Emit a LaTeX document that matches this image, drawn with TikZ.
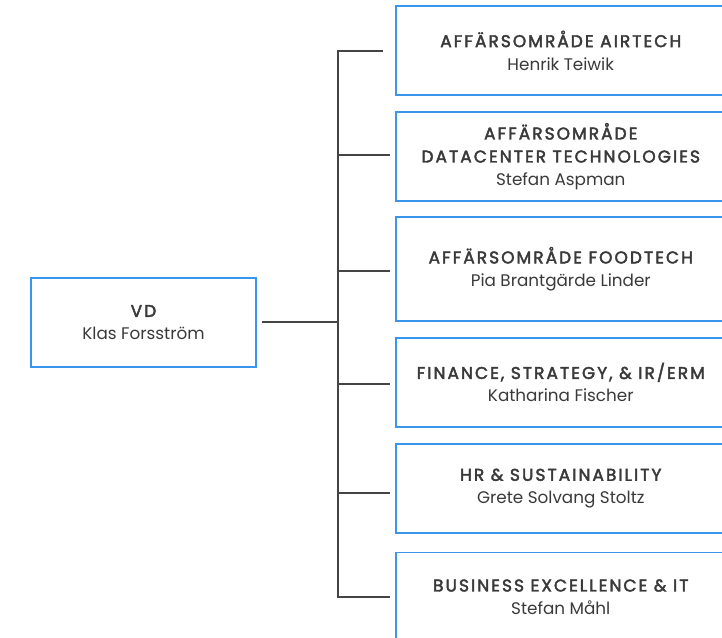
\documentclass[tikz,border=0pt]{standalone}
\usepackage{fontspec}
\setmainfont{Poppins}
\newfontfamily\ttlfont[LetterSpace=12,FakeBold=2.5]{Poppins}
\definecolor{boxblue}{HTML}{3A95EC}
\definecolor{txtgray}{HTML}{3A3A3A}
\definecolor{linegray}{HTML}{444444}
\begin{document}
\begin{tikzpicture}[x=1pt,y=-1pt,
  orgbox/.style={draw=boxblue,line width=1.5pt,fill=white,minimum width=330pt,anchor=west,align=center,text=txtgray,font=\fontsize{16.8}{23}\selectfont,inner sep=0pt},
  vdbox/.style={draw=boxblue,line width=1.5pt,fill=white,minimum width=225pt,minimum height=89pt,align=center,text=txtgray,font=\fontsize{16.8}{23}\selectfont,inner sep=0pt},
  conn/.style={draw=linegray,line width=1.2pt}]
\useasboundingbox (0,0) rectangle (722,637);
\clip (0,0) rectangle (722,637);
\newcommand{\ttl}[1]{{\ttlfont\fontsize{17}{23}\selectfont #1}}
\node[vdbox] (vd) at (143.5,322.5) {\ttl{VD}\\Klas Forsström};
\node[orgbox,minimum height=89pt] (b1) at (395,50.5) {\ttl{AFFÄRSOMRÅDE AIRTECH}\\Henrik Teiwik};
\node[orgbox,minimum height=89pt] (b2) at (395,156.5) {\ttl{AFFÄRSOMRÅDE}\\\ttl{DATACENTER TECHNOLOGIES}\\Stefan Aspman};
\node[orgbox,minimum height=104pt] (b3) at (395,269) {\ttl{AFFÄRSOMRÅDE FOODTECH}\\Pia Brantgärde Linder};
\node[orgbox,minimum height=89pt] (b4) at (395,382.5) {\ttl{FINANCE, STRATEGY, \& IR/ERM}\\Katharina Fischer};
\node[orgbox,minimum height=89pt] (b5) at (395,488.5) {\ttl{HR \& SUSTAINABILITY}\\Grete Solvang Stoltz};
\node[orgbox,minimum height=89pt] (b6) at (395,597) {\ttl{BUSINESS EXCELLENCE \& IT}\\Stefan Måhl};
\coordinate (vdend) at (262,322);
\coordinate (tmid) at (338,322);
\coordinate (t1) at (338,51);
\coordinate (t6) at (338,597);
\coordinate (e1) at (383,51);
\coordinate (e2) at (390,155);
\coordinate (e3) at (390,271);
\coordinate (e4) at (390,384);
\coordinate (e5) at (390,493);
\coordinate (e6) at (390,597);
\draw[conn] (vdend) -- (tmid);
\draw[conn] (e1) -- (t1) -- (t6) -- (e6);
\draw[conn] (338,155) -- (e2);
\draw[conn] (338,271) -- (e3);
\draw[conn] (338,384) -- (e4);
\draw[conn] (338,493) -- (e5);
\end{tikzpicture}
\end{document}
